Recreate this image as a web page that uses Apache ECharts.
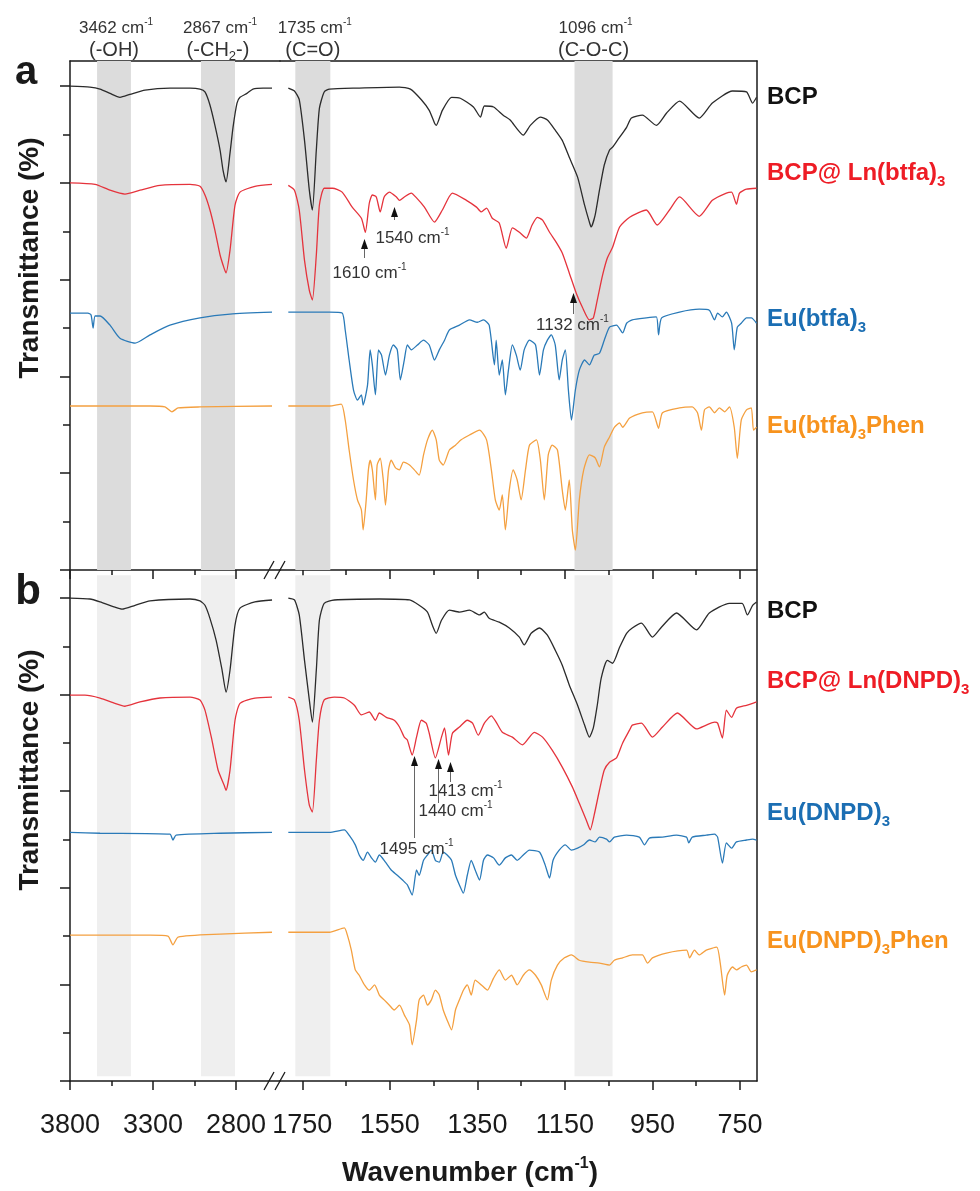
<!DOCTYPE html>
<html>
<head>
<meta charset="utf-8">
<title>FTIR spectra</title>
<script src="https://cdn.jsdelivr.net/npm/echarts@6/dist/echarts.min.js"></script>
<style>
html, body { margin: 0; padding: 0; background: #fff; }
#chart { width: 980px; height: 1191px; }
</style>
</head>
<body>
<div id="chart"></div>
<script>
// broken wavenumber axis: high window and low window
var hiRange = [2535, 3800];
var loRange = [711, 1801];
var hiTicks = [3800, 3300, 2800];
var hiMinor = [3550, 3050];
var loTicks = [1750, 1550, 1350, 1150, 950, 750];
var loMinor = [1650, 1450, 1250, 1050, 850];
var yTicks = [0, 20, 40, 60, 80, 100];
var yMinor = [10, 30, 50, 70, 90];

// shaded assignment bands
var bandsHi = [[3637, 3433], [3011, 2806]];
var bandsLo = [[1766, 1686], [1128, 1041]];
var bandNotes = ['3462', '2867', '1735', '1096'];
var bandGroups = ['{g|(-OH)}', '{g|(-CH}{b|2}{g|-)}', '{g|(C=O)}', '{g|(C-O-C)}'];

// ---- panel a ----
var bcp_a_hi = [[3800,100.0],[3680,99.8],[3619,99.4],[3559,98.5],[3499,97.7],[3439,98.3],[3348,99.2],[3198,99.6],[3077,99.6],[3017,99.4],[2987,98.8],[2957,96.1],[2927,91.9],[2896,86.8],[2878,82.6],[2860,80.2],[2836,86.2],[2818,91.5],[2794,96.5],[2776,97.7],[2734,98.5],[2698,99.4],[2637,99.6],[2583,99.6]];
var bcp_a_lo = [[1782,99.6],[1768,99.0],[1757,97.2],[1745,88.8],[1734,78.5],[1727,74.4],[1718,86.8],[1711,95.4],[1700,98.8],[1688,99.4],[1620,99.6],[1528,99.8],[1503,99.4],[1478,97.2],[1460,95.0],[1448,92.4],[1444,91.9],[1430,95.0],[1409,97.7],[1389,97.5],[1359,95.7],[1343,93.6],[1334,95.9],[1313,95.7],[1291,94.0],[1275,93.0],[1245,89.9],[1229,91.9],[1206,93.6],[1190,93.0],[1172,90.9],[1156,88.8],[1140,85.3],[1121,81.2],[1105,75.4],[1094,71.9],[1090,70.9],[1081,73.3],[1071,78.5],[1060,83.7],[1048,86.8],[1041,87.4],[1030,88.8],[1009,91.5],[998,93.4],[973,94.0],[941,91.9],[918,94.4],[888,96.9],[843,93.4],[813,96.5],[767,99.0],[735,98.8],[721,96.5],[712,97.7]];
var bcpLn_a_hi = [[3800,80.0],[3649,79.7],[3559,78.5],[3469,77.7],[3378,78.5],[3258,79.5],[3077,79.7],[3017,79.3],[2987,77.5],[2957,74.4],[2927,70.2],[2896,65.1],[2872,62.4],[2860,61.4],[2836,66.1],[2806,75.4],[2776,78.1],[2686,79.3],[2583,79.7]];
var bcpLn_a_lo = [[1782,79.5],[1768,78.5],[1757,74.4],[1745,64.0],[1734,57.8],[1727,55.8],[1718,65.1],[1711,75.4],[1700,78.9],[1681,78.9],[1659,78.1],[1636,75.0],[1615,72.7],[1606,69.8],[1597,75.8],[1590,77.5],[1581,77.1],[1572,74.0],[1563,77.1],[1551,78.1],[1535,77.1],[1528,76.4],[1517,77.1],[1501,77.9],[1489,76.9],[1471,75.0],[1448,71.9],[1430,74.4],[1407,77.9],[1375,76.4],[1352,75.0],[1341,74.0],[1329,74.8],[1316,72.7],[1300,71.7],[1284,66.5],[1270,70.7],[1254,69.8],[1238,68.6],[1225,71.3],[1213,72.9],[1201,72.3],[1185,69.8],[1169,67.6],[1156,65.5],[1140,61.4],[1124,57.2],[1110,54.3],[1094,51.7],[1085,52.1],[1076,55.8],[1064,60.9],[1053,64.5],[1041,66.7],[1025,70.9],[1002,72.9],[964,74.4],[939,71.3],[911,74.4],[888,77.1],[843,73.1],[813,76.4],[781,77.9],[769,78.1],[758,75.6],[751,77.9],[735,78.7],[712,78.9]];
var eu_a_hi = [[3800,53.1],[3692,53.1],[3673,52.7],[3661,50.0],[3649,52.5],[3619,52.5],[3559,50.6],[3499,47.9],[3408,46.9],[3318,48.6],[3198,50.6],[3017,52.1],[2836,52.9],[2583,53.3]];
var eu_a_lo = [[1782,53.3],[1688,53.3],[1659,53.1],[1652,49.6],[1643,43.4],[1633,37.2],[1624,35.1],[1615,36.2],[1611,34.1],[1601,38.2],[1595,45.5],[1590,42.4],[1583,36.2],[1576,45.5],[1569,44.4],[1560,40.3],[1551,44.4],[1542,46.5],[1533,45.5],[1526,39.3],[1517,43.4],[1510,46.5],[1501,45.5],[1487,46.5],[1473,47.5],[1460,46.5],[1448,43.4],[1437,45.5],[1425,47.5],[1414,49.6],[1391,50.6],[1368,51.7],[1350,51.2],[1336,51.7],[1323,50.6],[1311,42.4],[1307,47.5],[1300,40.3],[1293,43.4],[1286,36.2],[1279,41.3],[1270,46.5],[1261,44.4],[1252,41.3],[1243,45.5],[1231,47.5],[1217,46.5],[1208,40.3],[1199,45.5],[1190,47.5],[1181,48.6],[1172,46.5],[1163,39.3],[1156,43.4],[1149,45.5],[1142,37.2],[1135,31.0],[1126,37.2],[1117,41.3],[1105,43.4],[1094,42.4],[1083,44.4],[1071,44.8],[1060,47.5],[1048,50.2],[1032,50.6],[1018,49.0],[1009,51.0],[996,51.7],[964,52.1],[941,52.3],[936,48.6],[929,52.1],[888,53.3],[843,53.9],[820,53.7],[808,51.7],[801,53.1],[790,52.3],[781,53.3],[769,51.0],[763,45.5],[756,50.2],[747,51.0],[735,52.1],[724,52.1],[712,51.0]];
var euPhen_a_hi = [[3800,33.9],[3318,33.9],[3228,33.7],[3186,32.7],[3149,33.5],[3017,33.7],[2583,33.9]];
var euPhen_a_lo = [[1782,33.9],[1688,33.9],[1661,34.3],[1652,31.0],[1643,24.8],[1633,18.6],[1624,14.5],[1615,12.4],[1611,8.3],[1604,14.5],[1599,20.7],[1595,22.7],[1590,20.7],[1583,14.5],[1579,21.7],[1572,23.1],[1565,18.6],[1560,13.4],[1553,20.7],[1547,22.7],[1537,21.1],[1528,20.7],[1519,22.3],[1505,21.7],[1494,20.7],[1483,19.6],[1473,23.8],[1464,26.9],[1453,28.9],[1444,26.9],[1437,22.7],[1428,21.7],[1414,24.8],[1400,25.8],[1387,26.9],[1368,27.9],[1345,28.9],[1329,26.9],[1318,20.7],[1309,14.5],[1300,12.4],[1293,15.5],[1286,8.3],[1277,16.5],[1268,20.7],[1259,18.6],[1250,14.5],[1240,20.7],[1231,25.8],[1215,26.9],[1206,22.7],[1197,14.5],[1188,23.8],[1179,25.8],[1167,24.8],[1156,16.5],[1149,12.4],[1140,18.6],[1133,8.3],[1126,4.1],[1117,14.5],[1107,20.7],[1094,23.8],[1081,23.2],[1071,21.3],[1060,25.4],[1048,27.5],[1037,29.5],[1025,30.4],[1018,29.5],[1002,31.4],[973,32.5],[950,32.7],[936,29.3],[927,32.5],[888,33.5],[859,33.7],[847,32.5],[838,28.9],[831,33.1],[820,33.7],[808,32.5],[797,33.5],[785,32.7],[774,33.7],[763,29.5],[756,23.1],[747,31.0],[735,33.1],[724,33.5],[719,28.9],[712,29.5]];

// ---- panel b ----
var bcp_b_hi = [[3800,100.0],[3680,99.8],[3619,99.2],[3529,98.1],[3487,97.7],[3408,98.5],[3318,99.4],[3077,99.8],[3017,99.4],[2987,98.5],[2957,95.8],[2920,91.3],[2884,85.1],[2860,80.5],[2836,85.1],[2806,94.4],[2776,97.9],[2686,99.2],[2583,99.6]];
var bcp_b_lo = [[1782,100.0],[1768,99.6],[1757,96.5],[1745,87.1],[1734,78.9],[1727,74.3],[1718,85.1],[1711,95.4],[1700,98.9],[1677,99.6],[1574,99.8],[1505,99.6],[1483,98.5],[1464,97.1],[1453,94.4],[1444,92.7],[1432,95.4],[1414,97.5],[1391,97.1],[1368,97.5],[1345,96.5],[1334,97.1],[1323,95.8],[1300,95.0],[1277,93.8],[1254,91.9],[1243,90.3],[1227,92.7],[1208,93.8],[1190,92.3],[1172,89.2],[1156,86.1],[1140,82.0],[1121,77.8],[1105,73.7],[1094,71.2],[1085,73.1],[1076,77.8],[1067,83.4],[1053,87.1],[1041,86.5],[1025,89.8],[1009,92.7],[996,93.8],[975,94.8],[950,91.9],[929,94.0],[895,96.9],[849,93.4],[820,96.9],[774,98.9],[745,98.9],[733,96.5],[721,98.5],[712,99.2]];
var bcpLn_b_hi = [[3800,79.9],[3710,79.9],[3619,79.3],[3529,78.2],[3469,77.6],[3378,78.5],[3258,79.3],[3077,79.5],[3017,78.9],[2987,76.8],[2945,70.6],[2908,64.4],[2872,61.3],[2860,60.2],[2836,64.4],[2806,74.7],[2776,78.2],[2686,79.3],[2583,79.5]];
var bcpLn_b_lo = [[1782,79.5],[1768,78.9],[1757,74.7],[1745,64.4],[1734,57.1],[1727,55.7],[1718,66.4],[1711,74.7],[1700,78.9],[1677,79.5],[1654,79.3],[1631,77.8],[1615,75.8],[1597,76.4],[1583,74.7],[1574,76.2],[1558,75.3],[1540,74.7],[1528,73.3],[1517,71.2],[1510,70.6],[1499,67.5],[1489,71.2],[1478,74.7],[1467,74.1],[1460,72.0],[1446,66.9],[1432,71.2],[1425,73.1],[1416,67.5],[1407,72.0],[1391,73.3],[1373,74.7],[1361,74.1],[1348,71.6],[1334,74.1],[1318,75.6],[1307,74.3],[1293,72.2],[1270,71.2],[1247,69.6],[1220,72.2],[1201,71.2],[1179,68.5],[1156,65.0],[1133,60.9],[1117,57.5],[1101,54.0],[1092,52.0],[1083,55.1],[1071,60.2],[1060,64.4],[1048,66.0],[1032,66.9],[1018,70.0],[1002,72.7],[996,73.7],[975,74.1],[950,71.2],[927,73.3],[893,76.2],[849,72.9],[827,73.7],[808,74.3],[801,74.1],[790,71.0],[781,76.8],[769,75.3],[758,77.2],[735,77.8],[721,78.2],[712,78.5]];
var eu_b_hi = [[3800,51.5],[3619,51.3],[3198,51.1],[3180,49.9],[3161,50.9],[2896,51.3],[2583,51.5]];
var eu_b_lo = [[1782,51.5],[1688,51.5],[1654,52.0],[1643,50.9],[1629,48.9],[1620,46.8],[1611,45.7],[1601,47.4],[1592,46.2],[1583,45.3],[1574,46.8],[1560,45.3],[1547,43.7],[1533,42.6],[1521,41.6],[1510,40.6],[1499,38.5],[1489,43.7],[1483,42.6],[1473,45.7],[1464,46.8],[1455,47.8],[1446,45.7],[1437,45.3],[1428,47.4],[1419,46.8],[1409,45.7],[1400,42.6],[1391,40.6],[1382,38.9],[1373,42.6],[1364,45.7],[1355,43.7],[1345,41.6],[1336,45.7],[1327,46.8],[1313,46.2],[1300,44.7],[1286,46.2],[1272,46.8],[1259,45.7],[1245,46.8],[1231,47.8],[1208,47.4],[1195,44.7],[1185,42.0],[1177,45.7],[1163,47.8],[1149,48.9],[1135,47.8],[1121,48.2],[1107,48.9],[1094,49.9],[1081,49.5],[1071,50.5],[1055,50.1],[1048,49.5],[1037,50.5],[1009,50.9],[980,50.5],[968,48.9],[957,50.3],[927,50.5],[895,50.9],[872,50.5],[867,49.3],[859,50.5],[827,50.9],[808,51.1],[801,50.5],[790,45.1],[781,49.3],[769,48.2],[758,49.5],[735,49.9],[721,50.1],[712,49.9]];
var euPhen_b_hi = [[3800,30.2],[3318,30.2],[3210,30.0],[3180,28.2],[3149,29.8],[2896,30.4],[2583,30.8]];
var euPhen_b_lo = [[1782,30.8],[1688,30.8],[1654,31.7],[1647,30.2],[1638,27.1],[1629,23.0],[1620,21.9],[1608,19.9],[1597,18.8],[1585,19.9],[1574,17.8],[1563,16.8],[1551,15.7],[1540,14.7],[1528,15.7],[1517,13.7],[1505,11.6],[1499,7.5],[1489,12.6],[1483,16.8],[1473,17.8],[1464,15.7],[1455,16.8],[1446,18.8],[1437,17.8],[1428,14.7],[1419,12.6],[1409,10.6],[1400,14.7],[1391,16.8],[1382,18.8],[1373,19.9],[1364,17.8],[1355,20.9],[1341,19.9],[1327,18.8],[1313,21.3],[1300,23.0],[1286,20.9],[1272,21.9],[1259,19.9],[1245,21.9],[1231,23.0],[1217,21.9],[1204,19.9],[1190,16.8],[1181,20.9],[1167,24.0],[1151,25.5],[1135,26.1],[1117,25.0],[1094,24.6],[1071,24.4],[1048,24.0],[1037,25.0],[1018,25.5],[996,26.1],[973,26.1],[961,24.4],[950,25.5],[918,26.5],[872,27.1],[865,25.5],[854,27.1],[843,26.1],[827,27.1],[803,27.7],[795,24.4],[785,17.8],[779,21.9],[767,23.6],[758,23.0],[747,23.6],[735,24.0],[724,22.6],[712,23.0]];

// labelled peaks with arrows, per panel
var peakA = [1610, 1540, 1132];
var peakB = [1495, 1440, 1413];

var FONT = 'Liberation Sans, Arial, Helvetica, sans-serif';
var ink = '#1a1a1a';
var lineColors = ['#2b2b2b', '#e5333c', '#2a7ab8', '#f4a040'];
var textColors = ['#111111', '#ee1c25', '#1b6eb3', '#f7931e'];

var panels = [
    { top: 61, height: 509, ymax: 105.2, band: '#dcdcdc', bandY: [0, 105.2], labels: false, border: true,
      spectra: [[bcp_a_hi, bcp_a_lo], [bcpLn_a_hi, bcpLn_a_lo], [eu_a_hi, eu_a_lo], [euPhen_a_hi, euPhen_a_lo]] },
    { top: 571, height: 510, ymax: 105.6, band: '#efefef', bandY: [1, 104.7], labels: true, border: false,
      spectra: [[bcp_b_hi, bcp_b_lo], [bcpLn_b_hi, bcpLn_b_lo], [eu_b_hi, eu_b_lo], [euPhen_b_hi, euPhen_b_lo]] }
];

var grids = [], xAxes = [], yAxes = [], series = [];
var axisLineStyle = { color: ink, width: 1.5 };

panels.forEach(function (p) {
    p.xi = [];
    p.yi = [];
    [0, 1].forEach(function (side) {
        var gi = grids.length;
        grids.push({ left: side ? 280 : 70, width: side ? 477 : 210, top: p.top, height: p.height });
        var range = side ? loRange : hiRange;
        var major = side ? loTicks : hiTicks;
        var minor = side ? loMinor : hiMinor;
        function xa(extra) {
            return Object.assign({ gridIndex: gi, type: 'value', inverse: true, min: range[0], max: range[1],
                splitLine: { show: false }, axisLabel: { show: false } }, extra);
        }
        p.xi[side] = xAxes.length;
        xAxes.push(xa({
            position: 'bottom',
            axisLine: { onZero: false, lineStyle: axisLineStyle },
            axisTick: { customValues: major, length: 9, lineStyle: axisLineStyle },
            axisLabel: p.labels ? {
                customValues: major, margin: 31, fontSize: 27, color: ink, fontFamily: FONT,
                formatter: function (v) { return String(v); }
            } : { show: false }
        }));
        xAxes.push(xa({
            position: 'bottom',
            axisLine: { show: false },
            axisTick: { customValues: minor, length: 5, lineStyle: axisLineStyle }
        }));
        if (p.border) {
            xAxes.push(xa({ position: 'top', axisLine: { onZero: false, lineStyle: axisLineStyle }, axisTick: { show: false } }));
        }

        function ya(extra) {
            return Object.assign({ gridIndex: gi, type: 'value', min: 0, max: p.ymax,
                splitLine: { show: false }, axisLabel: { show: false } }, extra);
        }
        p.yi[side] = yAxes.length;
        if (side === 0) {
            yAxes.push(ya({ position: 'left', axisLine: { onZero: false, lineStyle: axisLineStyle },
                axisTick: { customValues: yTicks, length: 10, lineStyle: axisLineStyle } }));
            yAxes.push(ya({ position: 'left', axisLine: { show: false },
                axisTick: { customValues: yMinor, length: 7, lineStyle: axisLineStyle } }));
        } else {
            yAxes.push(ya({ position: 'right', axisLine: { onZero: false, lineStyle: axisLineStyle }, axisTick: { show: false } }));
        }

        // grey bands behind the curves
        series.push({
            type: 'line', data: [], xAxisIndex: p.xi[side], yAxisIndex: p.yi[side], z: 1, silent: true,
            markArea: {
                silent: true, itemStyle: { color: p.band },
                data: (side ? bandsLo : bandsHi).map(function (b) {
                    return [{ xAxis: b[0], yAxis: p.bandY[0] }, { xAxis: b[1], yAxis: p.bandY[1] }];
                })
            }
        });

        p.spectra.forEach(function (s, k) {
            series.push({
                type: 'line', data: s[side], xAxisIndex: p.xi[side], yAxisIndex: p.yi[side],
                showSymbol: false, symbol: 'none', smooth: 0.2, z: 3, silent: true,
                lineStyle: { color: lineColors[k], width: 1.3 }
            });
        });
    });
});

var chart = echarts.init(document.getElementById('chart'));
chart.setOption({
    animation: false,
    backgroundColor: '#fff',
    grid: grids.map(function (g) { return Object.assign({ containLabel: false, outerBoundsMode: 'none' }, g); }),
    xAxis: xAxes,
    yAxis: yAxes,
    series: series
});

// ---- annotations ----
function rs(size, weight, color, va, lh) {
    var o = { fontSize: size, fontFamily: FONT, fontWeight: weight, fill: color, verticalAlign: va };
    if (lh) o.lineHeight = lh;
    return o;
}
var graphics = [];
function text(x, y, str, rich, align, rot) {
    graphics.push({
        type: 'text', x: x, y: y, rotation: rot || 0, z: 100, silent: true,
        style: { text: str, rich: rich, align: align || 'center', verticalAlign: 'middle',
                 textAlign: align || 'center', textVerticalAlign: 'middle' }
    });
}
function px(axisIndex, value) {
    return chart.convertToPixel({ xAxisIndex: axisIndex }, value);
}

var noteRich = { n: rs(17, 'normal', '#333', 'middle', 21), s: rs(10, 'normal', '#333', 'top') };
var groupRich = { g: rs(20, 'normal', '#333', 'middle', 25), b: rs(13, 'normal', '#333', 'bottom') };
var allBands = bandsHi.map(function (b) { return [0, b]; }).concat(bandsLo.map(function (b) { return [1, b]; }));
allBands.forEach(function (item, i) {
    var ax = panels[0].xi[item[0]];
    var cx = (px(ax, item[1][0]) + px(ax, item[1][1])) / 2;
    text(cx + 2, 28, '{n|' + bandNotes[i] + ' cm}{s|-1}', noteRich);
    text(cx, 50, bandGroups[i], groupRich);
});

// arrows pointing at peaks
var arrowSpec = [
    { wn: peakA[0], p: 0, tip: 239, end: 258, tx: 5, ty: 273 },
    { wn: peakA[1], p: 0, tip: 207, end: 220, tx: 18, ty: 238 },
    { wn: peakA[2], p: 0, tip: 293, end: 314, tx: -1, ty: 325 },
    { wn: peakB[0], p: 1, tip: 756, end: 838, tx: 2, ty: 849 },
    { wn: peakB[1], p: 1, tip: 759, end: 803, tx: 17, ty: 811 },
    { wn: peakB[2], p: 1, tip: 762, end: 782, tx: 15, ty: 791 }
];
arrowSpec.forEach(function (a) {
    var x = Math.round(px(panels[a.p].xi[1], a.wn)) + 0.5;
    graphics.push({ type: 'line', z: 90, silent: true, shape: { x1: x, y1: a.tip + 8, x2: x, y2: a.end },
        style: { stroke: '#666', lineWidth: 1 } });
    graphics.push({ type: 'polygon', z: 91, silent: true,
        shape: { points: [[x, a.tip], [x - 3.5, a.tip + 10], [x + 3.5, a.tip + 10]] }, style: { fill: '#111' } });
    text(x + a.tx, a.ty, '{n|' + a.wn + ' cm}{s|-1}', noteRich);
});

// series names at the right
var nameRows = [
    ['{t|BCP}', 0, 97], ['{t|BCP@ Ln(btfa)}{b|3}', 1, 173], ['{t|Eu(btfa)}{b|3}', 2, 319], ['{t|Eu(btfa)}{b|3}{t|Phen}', 3, 426],
    ['{t|BCP}', 0, 611], ['{t|BCP@ Ln(DNPD)}{b|3}', 1, 681], ['{t|Eu(DNPD)}{b|3}', 2, 813], ['{t|Eu(DNPD)}{b|3}{t|Phen}', 3, 941]
];
nameRows.forEach(function (r) {
    var c = textColors[r[1]];
    text(767, r[2], r[0], { t: rs(24, 'bold', c, 'middle', 32), b: rs(15, 'bold', c, 'bottom') }, 'left');
});

// axis titles and panel letters
var titleRich = { w: rs(28, 'bold', ink, 'middle', 34), s: rs(16, 'bold', ink, 'top') };
text(470, 1173, '{w|Wavenumber (cm}{s|-1}{w|)}', titleRich);
text(30, 258, '{w|Transmittance (%)}', titleRich, 'center', Math.PI / 2);
text(30, 770, '{w|Transmittance (%)}', titleRich, 'center', Math.PI / 2);
text(26, 73, '{w|a}', { w: rs(40, 'bold', ink, 'middle') });
text(28, 592, '{w|b}', { w: rs(42, 'bold', ink, 'middle') });

// axis break marks
[570, 1081].forEach(function (y) {
    [264, 275].forEach(function (x) {
        graphics.push({ type: 'line', z: 95, silent: true, shape: { x1: x, y1: y + 9, x2: x + 10, y2: y - 9 },
            style: { stroke: ink, lineWidth: 1.3 } });
    });
});

chart.setOption({ graphic: graphics });
</script>
</body>
</html>
